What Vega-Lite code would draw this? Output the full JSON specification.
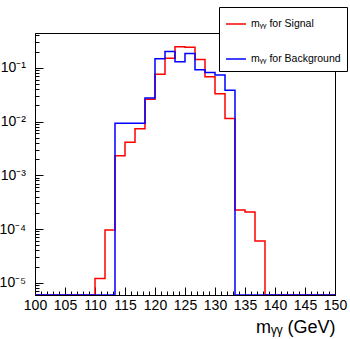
{
  "$schema": "https://vega.github.io/schema/vega-lite/v6.json",
  "width": 300,
  "height": 262,
  "autosize": "none",
  "padding": {"left": 35, "top": 33, "right": 15, "bottom": 44},
  "background": "white",
  "config": {
    "font": "Liberation Sans",
    "view": {"stroke": "black", "strokeWidth": 1},
    "axis": {"grid": false, "ticks": true, "domainColor": "black", "tickColor": "black", "labelColor": "black", "titleColor": "black", "labelFont": "Liberation Sans", "titleFont": "Liberation Sans"}
  },
  "data": {
    "values": [
      {"m": 100, "v": 1e-9, "s": "Signal"},
      {"m": 101.667, "v": 1e-9, "s": "Signal"},
      {"m": 103.333, "v": 1e-9, "s": "Signal"},
      {"m": 105, "v": 1e-9, "s": "Signal"},
      {"m": 106.667, "v": 1e-9, "s": "Signal"},
      {"m": 108.333, "v": 1e-9, "s": "Signal"},
      {"m": 110, "v": 1.2e-5, "s": "Signal"},
      {"m": 111.667, "v": 9.6e-5, "s": "Signal"},
      {"m": 113.333, "v": 2.3e-3, "s": "Signal"},
      {"m": 115, "v": 4.1e-3, "s": "Signal"},
      {"m": 116.667, "v": 7.3e-3, "s": "Signal"},
      {"m": 118.333, "v": 0.026, "s": "Signal"},
      {"m": 120, "v": 0.076, "s": "Signal"},
      {"m": 121.667, "v": 0.15, "s": "Signal"},
      {"m": 123.333, "v": 0.245, "s": "Signal"},
      {"m": 125, "v": 0.24, "s": "Signal"},
      {"m": 126.667, "v": 0.143, "s": "Signal"},
      {"m": 128.333, "v": 0.068, "s": "Signal"},
      {"m": 130, "v": 0.033, "s": "Signal"},
      {"m": 131.667, "v": 0.0114, "s": "Signal"},
      {"m": 133.333, "v": 2.25e-4, "s": "Signal"},
      {"m": 135, "v": 2.07e-4, "s": "Signal"},
      {"m": 136.667, "v": 6.0e-5, "s": "Signal"},
      {"m": 138.333, "v": 1e-9, "s": "Signal"},
      {"m": 140, "v": 1e-9, "s": "Signal"},
      {"m": 141.667, "v": 1e-9, "s": "Signal"},
      {"m": 143.333, "v": 1e-9, "s": "Signal"},
      {"m": 145, "v": 1e-9, "s": "Signal"},
      {"m": 146.667, "v": 1e-9, "s": "Signal"},
      {"m": 148.333, "v": 1e-9, "s": "Signal"},
      {"m": 150, "v": 1e-9, "s": "Signal"},
      {"m": 100, "v": 1e-9, "s": "Background"},
      {"m": 101.667, "v": 1e-9, "s": "Background"},
      {"m": 103.333, "v": 1e-9, "s": "Background"},
      {"m": 105, "v": 1e-9, "s": "Background"},
      {"m": 106.667, "v": 1e-9, "s": "Background"},
      {"m": 108.333, "v": 1e-9, "s": "Background"},
      {"m": 110, "v": 1e-9, "s": "Background"},
      {"m": 111.667, "v": 1e-9, "s": "Background"},
      {"m": 113.333, "v": 9.3e-3, "s": "Background"},
      {"m": 115, "v": 9.3e-3, "s": "Background"},
      {"m": 116.667, "v": 9.3e-3, "s": "Background"},
      {"m": 118.333, "v": 0.0275, "s": "Background"},
      {"m": 120, "v": 0.147, "s": "Background"},
      {"m": 121.667, "v": 0.2, "s": "Background"},
      {"m": 123.333, "v": 0.129, "s": "Background"},
      {"m": 125, "v": 0.185, "s": "Background"},
      {"m": 126.667, "v": 0.092, "s": "Background"},
      {"m": 128.333, "v": 0.082, "s": "Background"},
      {"m": 130, "v": 0.073, "s": "Background"},
      {"m": 131.667, "v": 0.038, "s": "Background"},
      {"m": 133.333, "v": 1e-9, "s": "Background"},
      {"m": 135, "v": 1e-9, "s": "Background"},
      {"m": 136.667, "v": 1e-9, "s": "Background"},
      {"m": 138.333, "v": 1e-9, "s": "Background"},
      {"m": 140, "v": 1e-9, "s": "Background"},
      {"m": 141.667, "v": 1e-9, "s": "Background"},
      {"m": 143.333, "v": 1e-9, "s": "Background"},
      {"m": 145, "v": 1e-9, "s": "Background"},
      {"m": 146.667, "v": 1e-9, "s": "Background"},
      {"m": 148.333, "v": 1e-9, "s": "Background"},
      {"m": 150, "v": 1e-9, "s": "Background"}
    ]
  },
  "mark": {"type": "line", "interpolate": "step-after", "strokeWidth": 1.5, "clip": true},
  "encoding": {
    "x": {
      "field": "m", "type": "quantitative",
      "scale": {"domain": [100, 150], "nice": false, "zero": false},
      "axis": {
        "values": [100,101,102,103,104,105,106,107,108,109,110,111,112,113,114,115,116,117,118,119,120,121,122,123,124,125,126,127,128,129,130,131,132,133,134,135,136,137,138,139,140,141,142,143,144,145,146,147,148,149,150],
        "labelExpr": "datum.value % 5 === 0 ? datum.label : ''",
        "tickSize": -8,
        "tickDash": {"condition": {"test": "datum.value % 5 === 0", "value": [8, 0]}, "value": [4, 20]},
        "labelPadding": 11,
        "labelFontSize": 14,
        "labelOverlap": false,
        "labelFlush": false,
        "title": "mᵧᵧ (GeV)",
        "titleFontSize": 18,
        "titleFontWeight": "normal",
        "titleAnchor": "end",
        "titleAlign": "right",
        "titleBaseline": "alphabetic",
        "titleX": 300,
        "titleY": 37
      }
    },
    "y": {
      "field": "v", "type": "quantitative",
      "scale": {"type": "log", "domain": [0.00000593, 0.443], "nice": false, "clamp": true},
      "axis": {
        "values": [0.000006,0.000007,0.000008,0.000009,0.00001,0.00002,0.00003,0.00004,0.00005,0.00006,0.00007,0.00008,0.00009,0.0001,0.0002,0.0003,0.0004,0.0005,0.0006,0.0007,0.0008,0.0009,0.001,0.002,0.003,0.004,0.005,0.006,0.007,0.008,0.009,0.01,0.02,0.03,0.04,0.05,0.06,0.07,0.08,0.09,0.1,0.2,0.3,0.4],
        "labelExpr": "indexof([0.00001,0.0001,0.001,0.01,0.1], datum.value) >= 0 ? '10' + ['⁰','⁻¹','⁻²','⁻³','⁻⁴','⁻⁵','⁻⁶'][-round(log(datum.value)/LN10)] : ''",
        "tickSize": -8,
        "tickWidth": 1,
        "tickDash": {"condition": {"test": "indexof([0.00001,0.0001,0.001,0.01,0.1], datum.value) >= 0", "value": [8, 0]}, "value": [4, 20]},
        "labelPadding": 17.5,
        "labelFontSize": 14,
        "labelOverlap": false,
        "labelFlush": false,
        "labelBaseline": "middle",
        "title": null
      }
    },
    "color": {
      "field": "s", "type": "nominal",
      "scale": {"domain": ["Signal", "Background"], "range": ["#ff0000", "#0000ff"]},
      "legend": {
        "orient": "none", "legendX": 184, "legendY": -26,
        "title": null,
        "fillColor": "white", "strokeColor": "black", "padding": 6, "rowPadding": 18,
        "symbolType": "stroke", "symbolSize": 400, "symbolStrokeWidth": 1.5,
        "labelFontSize": 10.5, "labelFont": "Liberation Sans", "labelOffset": 4,
        "labelExpr": "'mᵧᵧ for ' + datum.label"
      }
    }
  }
}
